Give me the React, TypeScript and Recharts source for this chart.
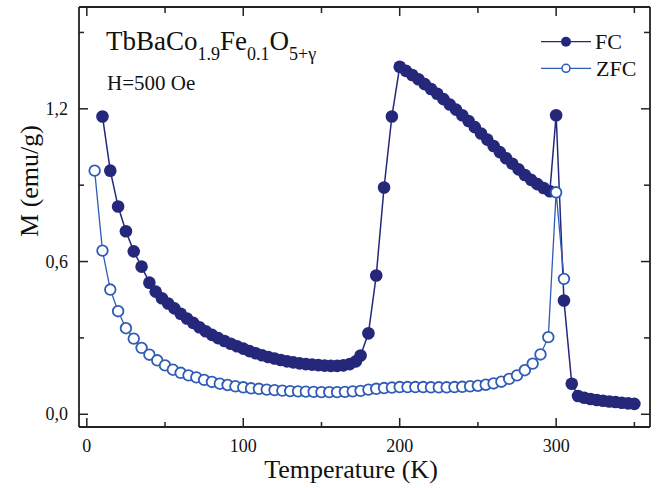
import React from 'react';
import { LineChart, Line, XAxis, YAxis, Legend } from 'recharts';

const fcTemps = [10, 15, 20, 25, 30, 35, 40, 44, 48, 52, 56, 60, 64, 68, 72, 76, 80, 84, 88, 92, 96, 100, 104, 108, 112, 116, 120, 124, 128, 132, 136, 140, 144, 148, 152, 156, 160, 164, 168, 172, 175, 180, 185, 190, 195, 200, 204, 208, 212, 216, 220, 224, 228, 232, 236, 240, 244, 248, 252, 256, 260, 264, 268, 272, 276, 280, 284, 288, 292, 296, 300, 305, 310, 314, 318, 322, 326, 330, 334, 338, 342, 346, 350];
const fcValues = [1.17, 0.957, 0.816, 0.719, 0.64, 0.58, 0.517, 0.482, 0.456, 0.435, 0.416, 0.395, 0.376, 0.359, 0.342, 0.326, 0.312, 0.299, 0.288, 0.277, 0.267, 0.258, 0.248, 0.24, 0.232, 0.225, 0.219, 0.213, 0.208, 0.204, 0.2, 0.197, 0.195, 0.193, 0.191, 0.19, 0.19, 0.192, 0.197, 0.208, 0.231, 0.318, 0.545, 0.891, 1.17, 1.365, 1.349, 1.333, 1.316, 1.297, 1.278, 1.259, 1.238, 1.217, 1.197, 1.175, 1.152, 1.128, 1.103, 1.079, 1.054, 1.03, 1.006, 0.984, 0.962, 0.94, 0.921, 0.904, 0.889, 0.876, 1.175, 0.447, 0.12, 0.072, 0.065, 0.06, 0.056, 0.053, 0.05, 0.048, 0.045, 0.043, 0.041];

const zfcTemps = [5, 10, 15, 20, 25, 30, 35, 40, 45, 50, 55, 60, 65, 70, 75, 80, 85, 90, 95, 100, 105, 110, 115, 120, 125, 130, 135, 140, 145, 150, 155, 160, 165, 170, 175, 180, 185, 190, 195, 200, 205, 210, 215, 220, 225, 230, 235, 240, 245, 250, 255, 260, 265, 270, 275, 280, 285, 290, 295, 300, 305];
const zfcValues = [0.957, 0.643, 0.49, 0.405, 0.338, 0.297, 0.261, 0.234, 0.212, 0.192, 0.175, 0.163, 0.153, 0.145, 0.135, 0.127, 0.12, 0.115, 0.11, 0.106, 0.102, 0.1, 0.097, 0.095, 0.093, 0.091, 0.09, 0.089, 0.088, 0.087, 0.087, 0.087, 0.088, 0.09, 0.092, 0.097, 0.1, 0.103, 0.105, 0.107, 0.107, 0.107, 0.107, 0.106, 0.106, 0.106, 0.107, 0.108, 0.11, 0.112, 0.116, 0.121, 0.128, 0.139, 0.153, 0.173, 0.199, 0.235, 0.303, 0.872, 0.532];

const xTicks = [0, 50, 100, 150, 200, 250, 300, 350];
const xLabeledTicks = [0, 100, 200, 300];
const yTicks = [0, 0.3, 0.6, 0.9, 1.2, 1.5];
const yLabeledTicks = [0, 0.6, 1.2];

const fcData = fcTemps.map((T, i) => ({ T, M: fcValues[i] }));
const zfcData = zfcTemps.map((T, i) => ({ T, M: zfcValues[i] }));

const NAVY = '#25287a';
const BLUE = '#2f5cb6';
const AXIS = '#222222';
const FONT = '"Liberation Serif", "Times New Roman", serif';

const isMajorX = (v: number) => xLabeledTicks.some((t) => Math.abs(t - v) < 1e-6);
const isMajorY = (v: number) => yLabeledTicks.some((t) => Math.abs(t - v) < 1e-6);
const fmtY = (v: number) => v.toFixed(1).replace('.', ',');

const BottomTick = (props: any) => {
  const { x, y, payload } = props;
  const major = isMajorX(payload.value);
  return (
    <g>
      <line x1={x} x2={x} y1={y} y2={y - (major ? 9 : 5)} stroke={AXIS} strokeWidth={1.5} />
      {major && (
        <text x={x} y={y + 25} textAnchor="middle" fontSize={18} fontFamily={FONT} fill="#111">
          {payload.value}
        </text>
      )}
    </g>
  );
};

const TopTick = (props: any) => {
  const { x, y, payload } = props;
  const major = isMajorX(payload.value);
  return <line x1={x} x2={x} y1={y} y2={y + (major ? 9 : 6)} stroke={AXIS} strokeWidth={1.5} />;
};

const LeftTick = (props: any) => {
  const { x, y, payload } = props;
  const major = isMajorY(payload.value);
  return (
    <g>
      <line x1={x} x2={x + (major ? 9 : 5)} y1={y} y2={y} stroke={AXIS} strokeWidth={1.5} />
      {major && (
        <text x={x - 11} y={y + 6} textAnchor="end" fontSize={18} fontFamily={FONT} fill="#111">
          {fmtY(payload.value)}
        </text>
      )}
    </g>
  );
};

const RightTick = (props: any) => {
  const { x, y, payload } = props;
  const major = isMajorY(payload.value);
  return <line x1={x} x2={x - (major ? 9 : 6)} y1={y} y2={y} stroke={AXIS} strokeWidth={1.5} />;
};

const XTitle = () => (
  <text x={351} y={478} textAnchor="middle" fontSize={26} fontFamily={FONT} fill="#111">
    Temperature (K)
  </text>
);

const YTitle = () => (
  <text
    x={38}
    y={181}
    transform="rotate(-90 38 181)"
    textAnchor="middle"
    fontSize={26}
    fontFamily={FONT}
    fill="#111"
  >
    M (emu/g)
  </text>
);

const LegendContent = () => (
  <svg width={115} height={60} style={{ display: 'block', overflow: 'visible' }}>
    <line x1={1} x2={51} y1={16.7} y2={16.7} stroke={NAVY} strokeWidth={1.3} />
    <circle cx={26} cy={16.7} r={5} fill={NAVY} />
    <text x={55} y={23.5} fontSize={22} fontFamily={FONT} fill="#111">FC</text>
    <line x1={1} x2={51} y1={43.3} y2={43.3} stroke={BLUE} strokeWidth={1.3} />
    <circle cx={26} cy={43.3} r={4} fill="#fff" stroke={BLUE} strokeWidth={1.6} />
    <text x={56} y={51} fontSize={22} fontFamily={FONT} fill="#111">ZFC</text>
  </svg>
);

export default function App() {
  return (
    <div style={{ position: 'absolute', left: 0, top: 0, width: 658, height: 488, background: '#fff' }}>
      <LineChart width={658} height={488} margin={{ top: 6, right: 7, bottom: 0, left: 0 }}>
        <XAxis
          xAxisId="bottom"
          dataKey="T"
          type="number"
          domain={[-5, 360]}
          ticks={xTicks}
          interval={0}
          height={61}
          allowDataOverflow
          axisLine={{ stroke: AXIS, strokeWidth: 1.8 }}
          tickLine={false}
          tickSize={0}
          tickMargin={0}
          tick={<BottomTick />}
          label={{ content: <XTitle /> }}
        />
        <XAxis
          xAxisId="top"
          orientation="top"
          dataKey="T"
          type="number"
          domain={[-5, 360]}
          ticks={xTicks}
          interval={0}
          height={1}
          allowDataOverflow
          axisLine={{ stroke: AXIS, strokeWidth: 1.8 }}
          tickLine={false}
          tickSize={0}
          tickMargin={0}
          tick={<TopTick />}
        />
        <YAxis
          yAxisId="left"
          type="number"
          domain={[-0.05, 1.6]}
          ticks={yTicks}
          interval={0}
          width={79}
          allowDataOverflow
          axisLine={{ stroke: AXIS, strokeWidth: 1.8 }}
          tickLine={false}
          tickSize={0}
          tickMargin={0}
          tick={<LeftTick />}
          label={{ content: <YTitle /> }}
        />
        <YAxis
          yAxisId="right"
          orientation="right"
          type="number"
          domain={[-0.05, 1.6]}
          ticks={yTicks}
          interval={0}
          width={1}
          allowDataOverflow
          axisLine={{ stroke: AXIS, strokeWidth: 1.8 }}
          tickLine={false}
          tickSize={0}
          tickMargin={0}
          tick={<RightTick />}
        />
        <Legend
          layout="horizontal"
          verticalAlign="middle"
          align="center"
          content={<LegendContent />}
          wrapperStyle={{ position: 'absolute', left: 540, top: 25, width: 115, height: 60 }}
        />
        <Line
          xAxisId="bottom"
          yAxisId="left"
          data={fcData}
          dataKey="M"
          name="FC"
          stroke={NAVY}
          strokeWidth={1.5}
          dot={{ r: 6.3, fill: NAVY, stroke: 'none' }}
          activeDot={false}
          isAnimationActive={false}
        />
        <Line
          xAxisId="bottom"
          yAxisId="left"
          data={zfcData}
          dataKey="M"
          name="ZFC"
          stroke={BLUE}
          strokeWidth={1.3}
          dot={{ r: 5.3, fill: '#fff', stroke: BLUE, strokeWidth: 1.8 }}
          activeDot={false}
          isAnimationActive={false}
        />
      </LineChart>
      <svg
        width={658}
        height={488}
        style={{ position: 'absolute', left: 0, top: 0, pointerEvents: 'none' }}
      >
        <text x={106} y={50} fontSize={27} fontFamily={FONT} fill="#111">
          TbBaCo
          <tspan fontSize={18} dy={10}>1.9</tspan>
          <tspan fontSize={27} dy={-10}>Fe</tspan>
          <tspan fontSize={18} dy={10}>0.1</tspan>
          <tspan fontSize={27} dy={-10}>O</tspan>
          <tspan fontSize={18} dy={10}>5+γ</tspan>
        </text>
        <text x={107} y={90} fontSize={21} fontFamily={FONT} fill="#111">
          H=500 Oe
        </text>
      </svg>
    </div>
  );
}
